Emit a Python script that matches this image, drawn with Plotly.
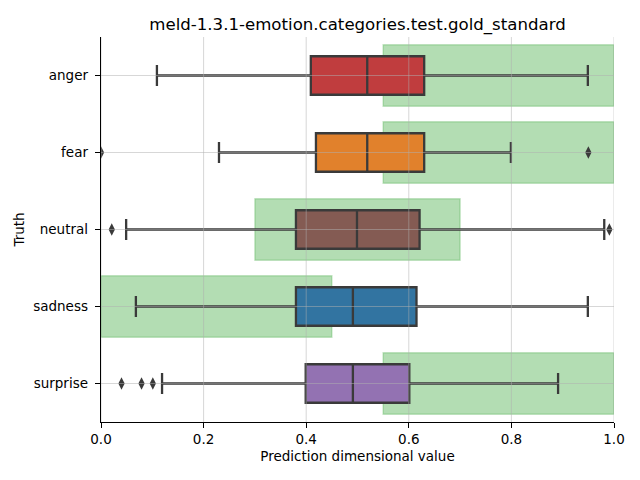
import plotly.graph_objects as go

categories = ["anger", "fear", "neutral", "sadness", "surprise"]
box_colors = ["#c03d3e", "#e1812c", "#845b53", "#3274a1", "#9372b2"]
lower_whisker = [0.109, 0.230, 0.049, 0.068, 0.119]
q1 = [0.409, 0.419, 0.380, 0.380, 0.399]
median = [0.519, 0.519, 0.499, 0.491, 0.491]
q3 = [0.630, 0.630, 0.621, 0.615, 0.601]
upper_whisker = [0.949, 0.799, 0.981, 0.949, 0.891]
outliers = {
    "anger": [],
    "fear": [0.0, 0.950],
    "neutral": [0.021, 0.991],
    "sadness": [],
    "surprise": [0.040, 0.079, 0.101],
}
band_lo = [0.55, 0.55, 0.30, 0.0, 0.55]
band_hi = [1.0, 1.0, 0.70, 0.45, 1.0]
x_ticks = [0.0, 0.2, 0.4, 0.6, 0.8, 1.0]

edge = "#3a3a3a"
fig = go.Figure()

for i, c in enumerate(categories):
    fig.add_trace(go.Box(
        y=[c], q1=[q1[i]], median=[median[i]], q3=[q3[i]],
        lowerfence=[lower_whisker[i]], upperfence=[upper_whisker[i]],
        orientation="h", width=0.5, whiskerwidth=0.55,
        fillcolor=box_colors[i], line=dict(color=edge, width=2.3),
        boxpoints=False, showlegend=False, hoverinfo="skip",
    ))
    if outliers[c]:
        fig.add_trace(go.Scatter(
            x=outliers[c], y=[c] * len(outliers[c]), mode="markers",
            marker=dict(symbol="diamond-tall", size=9, color=edge),
            showlegend=False, cliponaxis=True,
        ))

# green bands
for i, c in enumerate(categories):
    fig.add_shape(type="rect", xref="x", yref="y",
                  x0=band_lo[i], x1=band_hi[i], y0=i - 0.4, y1=i + 0.4,
                  fillcolor="rgba(44,160,44,0.36)",
                  line=dict(color="rgba(44,160,44,0.25)", width=1.5),
                  layer="below")

# grid lines drawn above like matplotlib
grid_col = "rgba(176,176,176,0.5)"
for t in x_ticks:
    fig.add_shape(type="line", xref="x", yref="paper", x0=t, x1=t, y0=0, y1=1,
                  line=dict(color=grid_col, width=1), layer="above")
for i, c in enumerate(categories):
    fig.add_shape(type="line", xref="paper", yref="y", x0=0, x1=1, y0=i, y1=i,
                  line=dict(color=grid_col, width=1), layer="above")

fig.update_layout(
    width=640, height=480,
    margin=dict(l=93, r=34, t=29, b=66, autoexpand=False),
    paper_bgcolor="white", plot_bgcolor="white",
    font=dict(family="DejaVu Sans", size=13.5, color="black"),
    title=dict(text="meld-1.3.1-emotion.categories.test.gold_standard",
               x=0.5, xref="paper", xanchor="center",
               y=1 - 16 / 480, yanchor="middle", yref="container",
               font=dict(size=16.6, color="black")),
    xaxis=dict(range=[0, 1], tickvals=x_ticks, automargin=False,
               ticktext=[f"{t:.1f}" for t in x_ticks],
               showgrid=False, zeroline=False, showline=True, linecolor="black",
               linewidth=1, ticks="outside", ticklen=5, tickcolor="black",
               title=dict(text="Prediction dimensional value", standoff=5,
                          font=dict(size=13.5))),
    yaxis=dict(type="category", categoryarray=categories, range=[4.5, -0.5],
               automargin=False,
               showgrid=False, zeroline=False, showline=True, linecolor="black",
               linewidth=1, ticks="outside", ticklen=5, tickcolor="black",
               ticksuffix=" ",
               title=dict(text="Truth", standoff=5, font=dict(size=13.5))),
)

fig.write_html("out.html")
